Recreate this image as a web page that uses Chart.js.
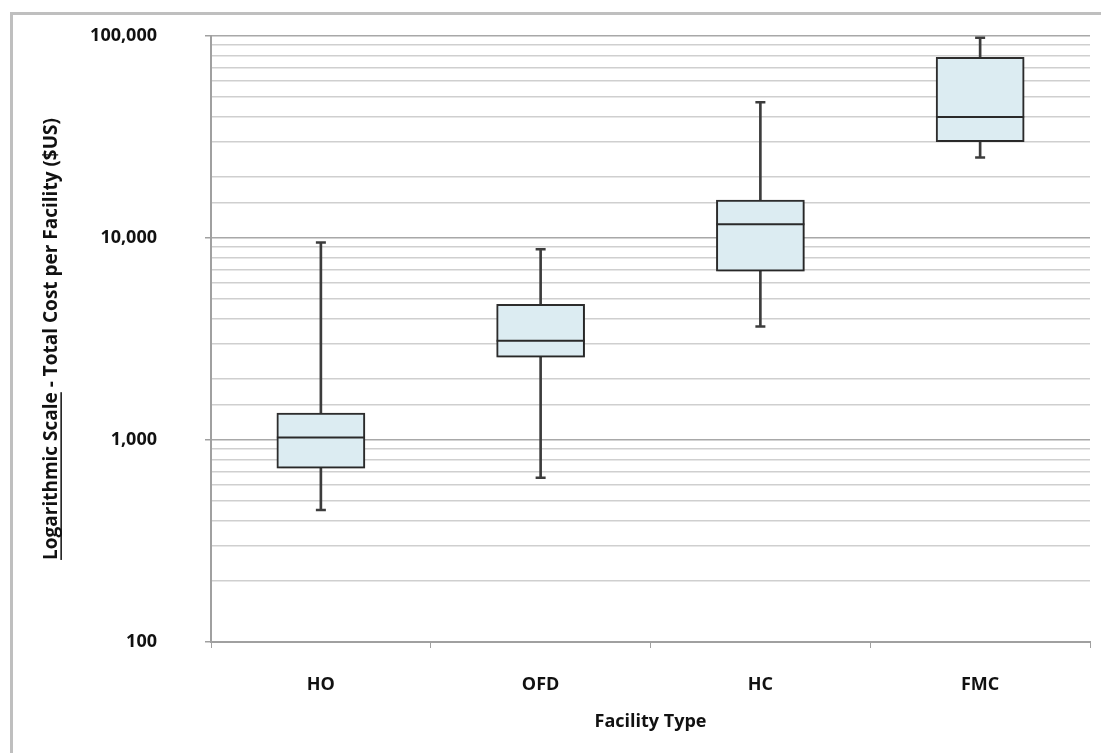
<!DOCTYPE html>
<html lang="en">
<head>
<meta charset="UTF-8">
<title>Total Cost per Facility</title>
<script src="https://cdn.jsdelivr.net/npm/chart.js"></script>
<style>
  html, body { margin: 0; padding: 0; background: #fff; }
  #wrap { position: relative; width: 1101px; height: 753px; }
</style>
</head>
<body>
<div id="wrap">
  <canvas id="myChart" width="1101" height="753"></canvas>
</div>
<script>
// facility types and the five box statistics
const facilities = ['HO', 'OFD', 'HC', 'FMC'];
const whiskerLow  = [450, 650, 3650, 25000];
const quartile1   = [725, 2570, 6850, 30000];
const medians     = [1030, 3100, 11700, 39700];
const quartile3   = [1360, 4700, 15400, 78500];
const whiskerHigh = [9500, 8800, 47000, 98000];

const yTitle = 'Logarithmic Scale - Total Cost per Facility ($US)';
const yTitleUnderlined = 'Logarithmic Scale';

const isDecade = v => Math.abs(Math.log10(v) - Math.round(Math.log10(v))) < 1e-9;

// grey frame around the whole picture, box shadow, underline of part of the y title
const extras = {
  id: 'extras',
  beforeDraw(chart) {
    const c = chart.ctx;
    c.save();
    c.fillStyle = '#fff';
    c.fillRect(0, 0, chart.width, chart.height);
    c.strokeStyle = '#bfbfbf';
    c.lineWidth = 3;
    c.beginPath();
    c.moveTo(11.5, chart.height + 5);
    c.lineTo(11.5, 13.5);
    c.lineTo(chart.width + 5, 13.5);
    c.stroke();
    c.restore();
  },
  beforeDatasetDraw(chart, args) {
    if (args.index !== 1) return;
    const c = chart.ctx;
    c.save();
    c.shadowColor = 'rgba(0,0,0,0.28)';
    c.shadowBlur = 3;
    c.shadowOffsetX = 1;
    c.shadowOffsetY = 1;
  },
  afterDatasetDraw(chart, args) {
    if (args.index === 1) chart.ctx.restore();
  },
  afterDraw(chart) {
    const y = chart.scales.y;
    const t = y.options.title;
    const c = chart.ctx;
    const fnt = Chart.helpers.toFont(t.font);
    const tx = y.left + t.padding.top + fnt.lineHeight / 2;
    const ty = (chart.chartArea.top + chart.chartArea.bottom) / 2;
    c.save();
    c.translate(tx, ty);
    c.rotate(-Math.PI / 2);
    c.font = fnt.string;
    const full = c.measureText(yTitle).width;
    const part = c.measureText(yTitleUnderlined).width;
    c.fillStyle = t.color;
    c.fillRect(-full / 2, 9, part, 1.5);
    c.restore();
  }
};

const ctx = document.getElementById('myChart');
new Chart(ctx, {
  type: 'bar',
  data: {
    labels: facilities,
    datasets: [
      {
        // whisker stems
        label: 'range',
        data: facilities.map((f, i) => [whiskerLow[i], whiskerHigh[i]]),
        backgroundColor: '#3c3c3c',
        borderWidth: 0,
        barThickness: 2,
        grouped: false,
        order: 3
      },
      {
        // boxes
        label: 'IQR',
        data: facilities.map((f, i) => [quartile1[i], quartile3[i]]),
        backgroundColor: '#dcecf2',
        borderColor: '#2e2e2e',
        borderWidth: 2,
        borderSkipped: false,
        barThickness: 88,
        grouped: false,
        order: 2
      },
      {
        type: 'line',
        label: 'median',
        data: medians,
        showLine: false,
        pointStyle: 'line',
        pointRadius: 44,
        pointHoverRadius: 44,
        borderColor: '#2a2a2a',
        borderWidth: 2,
        order: 1
      },
      {
        type: 'line',
        label: 'max',
        data: whiskerHigh,
        showLine: false,
        pointStyle: 'line',
        pointRadius: 5,
        pointHoverRadius: 5,
        borderColor: '#3c3c3c',
        borderWidth: 2.5,
        order: 1
      },
      {
        type: 'line',
        label: 'min',
        data: whiskerLow,
        showLine: false,
        pointStyle: 'line',
        pointRadius: 5,
        pointHoverRadius: 5,
        borderColor: '#3c3c3c',
        borderWidth: 2.5,
        order: 1
      }
    ]
  },
  options: {
    responsive: false,
    animation: false,
    layout: { autoPadding: false, padding: { left: 0, top: 36, right: 11, bottom: 0 } },
    plugins: { legend: { display: false }, tooltip: { enabled: false } },
    scales: {
      x: {
        offset: true,
        grid: {
          offset: true,
          drawOnChartArea: false,
          drawTicks: true,
          tickLength: 6,
          tickColor: '#a0a0a0'
        },
        border: { color: '#a0a0a0', width: 2 },
        ticks: {
          padding: 26,
          color: '#111',
          font: { family: 'Open Sans', size: 18, weight: 'bold' }
        },
        title: {
          display: true,
          text: 'Facility Type',
          color: '#111',
          padding: { top: 4, bottom: 20 },
          font: { family: 'Open Sans', size: 18, weight: 'bold' }
        },
        afterFit(scale) {
          scale.height = 111;
          scale.paddingLeft = 0;
          scale.paddingRight = 0;
        }
      },
      y: {
        type: 'logarithmic',
        min: 100,
        max: 100000,
        grid: {
          drawTicks: true,
          tickLength: 6,
          lineWidth: 1.5,
          color: c => isDecade(c.tick.value) ? '#a8a8a8' : '#cfcfcf',
          tickColor: c => isDecade(c.tick.value) ? '#a0a0a0' : 'rgba(0,0,0,0)'
        },
        border: { color: '#a0a0a0', width: 2 },
        ticks: {
          autoSkip: false,
          padding: 48,
          color: '#111',
          font: { family: 'Open Sans', size: 18, weight: 'bold' },
          callback: v => isDecade(v) ? Number(v).toLocaleString('en-US') : ''
        },
        title: {
          display: true,
          text: yTitle,
          color: '#111',
          padding: { top: 40, bottom: 0 },
          font: { family: 'Open Sans', size: 19, weight: 'bold' }
        },
        afterFit(scale) {
          scale.width = 211;
          scale.paddingTop = 0;
          scale.paddingBottom = 0;
        }
      }
    }
  },
  plugins: [extras]
});
</script>
</body>
</html>
